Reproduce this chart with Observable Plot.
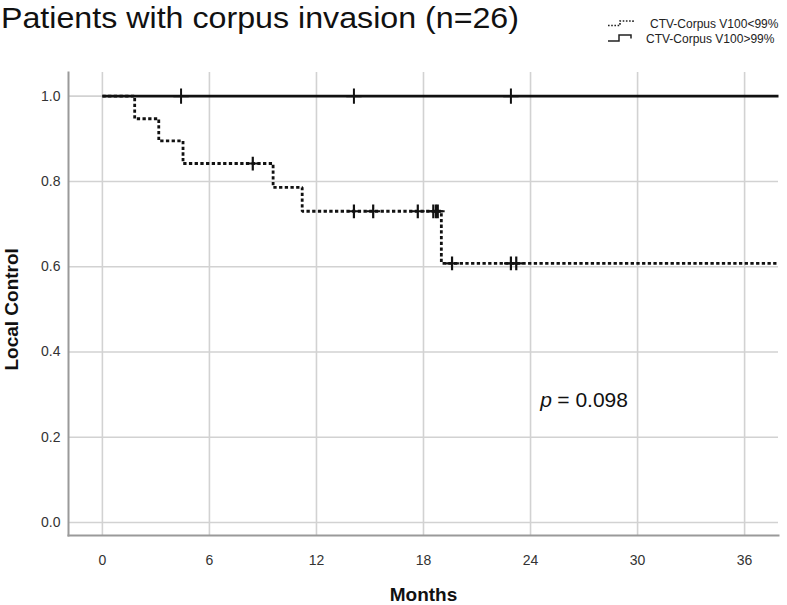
<!DOCTYPE html>
<html>
<head>
<meta charset="utf-8">
<script src="https://cdn.jsdelivr.net/npm/d3@7"></script>
<script src="https://cdn.jsdelivr.net/npm/@observablehq/plot@0.6"></script>
<style>
  html, body { margin: 0; padding: 0; background: #fff; }
  body { width: 787px; height: 605px; overflow: hidden; font-family: "Liberation Sans", Arial, sans-serif; }
  #header svg, #chart svg { display: block; }
</style>
</head>
<body>
<div id="header"></div>
<div id="chart"></div>
<script>
// ---------- data ----------
const titleText = "Patients with corpus invasion (n=26)";
const seriesNames = ["CTV-Corpus V100<99%", "CTV-Corpus V100>99%"];

// Kaplan–Meier steps, group V100<99% (dotted)
const lowTimes = [0, 1.81, 3.16, 4.52, 9.57, 11.2, 19.0, 37.9];
const lowSurv  = [1.0, 0.947, 0.895, 0.842, 0.786, 0.730, 0.608, 0.608];
// censored observations, group V100<99%
const lowCensTimes = [8.43, 14.1, 15.18, 17.68, 18.55, 18.7, 18.8, 19.6, 22.9, 23.2];
const lowCensSurv  = [0.842, 0.730, 0.730, 0.730, 0.730, 0.730, 0.730, 0.608, 0.608, 0.608];

// group V100>99% (solid)
const highTimes = [0, 37.9];
const highSurv  = [1.0, 1.0];
const highCensTimes = [4.41, 14.1, 22.9];
const highCensSurv  = [1.0, 1.0, 1.0];

const xTicks = [0, 6, 12, 18, 24, 30, 36];
const yTicks = [0.0, 0.2, 0.4, 0.6, 0.8, 1.0];
const pValue = "0.098";

// ---------- tables ----------
const lowLine = lowTimes.map((t, i) => ({t, s: lowSurv[i]}));
const highLine = highTimes.map((t, i) => ({t, s: highSurv[i]}));
const lowCens = lowCensTimes.map((t, i) => ({t, s: lowCensSurv[i]}));
const highCens = highCensTimes.map((t, i) => ({t, s: highCensSurv[i]}));

// ---------- header (title + legend) ----------
const hdr = d3.select("#header").append("svg")
  .attr("width", 787).attr("height", 60)
  .style("font-family", "'Liberation Sans', Arial, sans-serif");
hdr.append("text").attr("x", 1).attr("y", 27.5)
  .attr("font-size", 30).attr("fill", "#111")
  .attr("textLength", 518).attr("lengthAdjust", "spacingAndGlyphs")
  .text(titleText);
// legend symbols
hdr.append("path").attr("d", "M608,25.5 L620,25.5 L620,21 L633,21 L633,23")
  .attr("fill", "none").attr("stroke", "#222").attr("stroke-width", 1.6)
  .attr("stroke-dasharray", "1.6,1.6");
hdr.append("path").attr("d", "M608,41 L619,41 L619,35 L631,35 L631,38.5")
  .attr("fill", "none").attr("stroke", "#222").attr("stroke-width", 1.5);
hdr.append("text").attr("x", 650).attr("y", 27.5).attr("font-size", 12)
  .attr("fill", "#222").text(seriesNames[0]);
hdr.append("text").attr("x", 646).attr("y", 42.5).attr("font-size", 12)
  .attr("fill", "#222").text(seriesNames[1]);

// ---------- plot ----------
const chart = Plot.plot({
  width: 787,
  height: 545,
  marginLeft: 68,
  marginRight: 9,
  marginTop: 12,
  marginBottom: 70,
  style: {fontFamily: "'Liberation Sans', Arial, sans-serif", fontSize: "14px", color: "#333", background: "#fff", overflow: "visible"},
  x: {domain: [-1.9, 37.9], label: null},
  y: {domain: [-0.0305, 1.0555], label: null},
  marks: [
    Plot.ruleX(xTicks, {stroke: "#d2d2d2", strokeWidth: 1.6}),
    Plot.ruleY(yTicks, {stroke: "#d2d2d2", strokeWidth: 1.6}),
    Plot.frame({anchor: "left", stroke: "#9a9a9a", strokeWidth: 2}),
    Plot.frame({anchor: "bottom", stroke: "#9a9a9a", strokeWidth: 2}),
    Plot.axisX({ticks: xTicks, tickSize: 0, tickPadding: 20, fontSize: 14, fill: "#333", label: null}),
    Plot.axisY({ticks: yTicks, tickSize: 0, tickPadding: 8, fontSize: 14, fill: "#333", tickFormat: d3.format(".1f"), label: null}),
    Plot.line(highLine, {x: "t", y: "s", curve: "step-after", stroke: "#111", strokeWidth: 2.6, strokeLinecap: "butt"}),
    Plot.line(lowLine, {x: "t", y: "s", curve: "step-after", stroke: "#111", strokeWidth: 2.8, strokeDasharray: "3.3,2.4", strokeLinecap: "butt", strokeLinejoin: "miter"}),
    Plot.dot(highCens, {x: "t", y: "s", symbol: "plus", r: 5, stroke: "#111", strokeWidth: 2, strokeLinecap: "butt"}),
    Plot.dot(lowCens, {x: "t", y: "s", symbol: "plus", r: 4.5, stroke: "#111", strokeWidth: 2.2, strokeLinecap: "butt"}),
    Plot.text(["Local Control"], {x: -5.1, y: 0.5, rotate: -90, fontSize: 19, fontWeight: "bold", fill: "#111"}),
    Plot.text(["Months"], {x: 18.0, y: -0.171, fontSize: 19, fontWeight: "bold", fill: "#111"}),
    Plot.text(["p"], {x: 24.55, y: 0.286, textAnchor: "start", fontSize: 21, fontStyle: "italic", fill: "#111"}),
    Plot.text(["= " + pValue], {x: 25.5, y: 0.286, textAnchor: "start", fontSize: 21, fill: "#111"})
  ]
});
document.getElementById("chart").appendChild(chart);
</script>
</body>
</html>
